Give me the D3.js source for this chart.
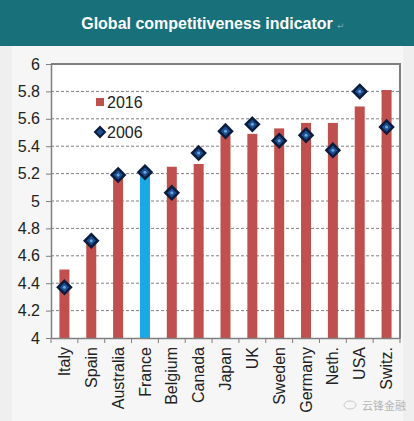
<!DOCTYPE html>
<html><head><meta charset="utf-8">
<script src="https://cdn.jsdelivr.net/npm/d3@7"></script>
<style>html,body{margin:0;padding:0;background:#efefef;}svg{display:block;}</style>
</head><body>
<svg id="c" width="414" height="421"></svg>
<script>
const categories = ["Italy","Spain","Australia","France","Belgium","Canada","Japan","UK","Sweden","Germany","Neth.","USA","Switz."];
const values2016 = [4.50,4.70,5.18,5.21,5.25,5.27,5.48,5.49,5.53,5.57,5.57,5.69,5.81];
const values2006 = [4.37,4.71,5.19,5.21,5.06,5.35,5.51,5.56,5.44,5.48,5.37,5.80,5.54];
const yTicks = [4,4.2,4.4,4.6,4.8,5,5.2,5.4,5.6,5.8,6];
const yTickLabels = ["4","4.2","4.4","4.6","4.8","5","5.2","5.4","5.6","5.8","6"];
const highlight = "France";
const title = "Global competitiveness indicator";

const svg = d3.select("#c");
const W = 414, H = 421;
const FF = "Liberation Sans, Arial, sans-serif";
svg.append("rect").attr("width",W).attr("height",H).attr("fill","#efefef");
svg.append("rect").attr("x",12).attr("y",46).attr("width",391).attr("height",H-46).attr("fill","#f6f6f6");
svg.append("rect").attr("width",W).attr("height",46).attr("fill","#17707a");
svg.append("text").attr("x",207).attr("y",29).attr("text-anchor","middle")
  .attr("font-family",FF).attr("font-weight","bold")
  .attr("font-size",16).attr("fill","#ffffff").text(title);
svg.append("text").attr("x",337).attr("y",29).attr("font-size",9).attr("fill","#7aa9ae")
  .attr("font-family","DejaVu Sans").text("↵");

const L = 51, R = 400, T = 64, B = 338;
const x = d3.scaleBand().domain(categories).range([L,R]).paddingInner(0).paddingOuter(0);
const y = d3.scaleLinear().domain([4,6]).range([B,T]);

svg.append("rect").attr("x",L).attr("y",T).attr("width",R-L).attr("height",B-T).attr("fill","#ffffff");

// grid
svg.append("g").selectAll("line").data(yTicks.filter(v=>v>4 && v<6)).join("line")
  .attr("x1",L).attr("x2",R).attr("y1",d=>y(d)).attr("y2",d=>y(d))
  .attr("stroke","#808080").attr("stroke-width",1).attr("stroke-dasharray","3,2");

// frame top/right
svg.append("path").attr("d",`M${L},${T}H${R}V${B}`).attr("fill","none").attr("stroke","#7f7f7f").attr("stroke-width",2);

// bars
const bw = 10;
svg.append("g").selectAll("rect").data(categories).join("rect")
  .attr("x",d=>x(d)+x.bandwidth()/2-bw/2)
  .attr("width",bw)
  .attr("y",(d,i)=>y(values2016[i]))
  .attr("height",(d,i)=>y(4)-y(values2016[i]))
  .attr("fill",d=>d===highlight?"#18a9e6":"#c0504d");

// y axis
const yAxis = d3.axisLeft(y).tickValues(yTicks).tickFormat((d,i)=>yTickLabels[i]).tickSize(5).tickSizeOuter(0);
const ya = svg.append("g").attr("transform",`translate(${L},0)`).call(yAxis);
ya.select(".domain").attr("stroke","#7f7f7f").attr("stroke-width",1.5);
ya.selectAll(".tick line").attr("stroke","#7f7f7f");
ya.selectAll(".tick text").attr("font-family",FF).attr("font-size",16).attr("fill","#222").attr("x",-11);

// x axis
const xAxis = d3.axisBottom(x).tickSize(0).tickSizeOuter(0);
const xa = svg.append("g").attr("transform",`translate(0,${B})`).call(xAxis);
xa.select(".domain").attr("stroke","#7f7f7f").attr("stroke-width",1.5);
xa.selectAll(".tick text").attr("font-family",FF).attr("font-size",16).attr("fill","#222")
  .attr("transform","rotate(-90)").attr("text-anchor","end").attr("x",-9).attr("y",0).attr("dy","0.35em").attr("dx",0);
// category separator ticks
svg.append("g").selectAll("line").data(categories.concat(["_end"])).join("line")
  .attr("x1",(d,i)=>L+i*x.bandwidth()).attr("x2",(d,i)=>L+i*x.bandwidth())
  .attr("y1",B).attr("y2",B+5).attr("stroke","#7f7f7f");

// diamonds
const ds = 6.5;
const dg = svg.append("g").selectAll("g").data(categories).join("g")
  .attr("transform",(d,i)=>`translate(${x(d)+x.bandwidth()/2},${y(values2006[i])})`);
dg.append("path").attr("d",`M0,${-ds}L${ds},0L0,${ds}L${-ds},0Z`)
  .attr("fill","#1d4f91").attr("stroke","#0b1c3c").attr("stroke-width",2.5);
dg.append("circle").attr("r",1.5).attr("fill","#6fa8dc");

// legend
svg.append("rect").attr("x",96).attr("y",98).attr("width",8).attr("height",8).attr("fill","#c0504d");
svg.append("text").attr("x",107).attr("y",108).attr("font-family",FF).attr("font-size",16).attr("fill","#222").text("2016");
const lg = svg.append("g").attr("transform","translate(100,132)");
lg.append("path").attr("d","M0,-5L5,0L0,5L-5,0Z").attr("fill","#1d4f91").attr("stroke","#0b1c3c").attr("stroke-width",2);
svg.append("text").attr("x",107).attr("y",138).attr("font-family",FF).attr("font-size",16).attr("fill","#222").text("2006");

// watermark
svg.append("text").attr("x",362).attr("y",410).attr("font-family","Noto Sans CJK SC").attr("font-size",11).attr("fill","#b5b5b5").text("云锋金融");
svg.append("ellipse").attr("cx",350).attr("cy",405).attr("rx",6).attr("ry",4).attr("fill","none").attr("stroke","#c8c8c8");
</script>
</body></html>
